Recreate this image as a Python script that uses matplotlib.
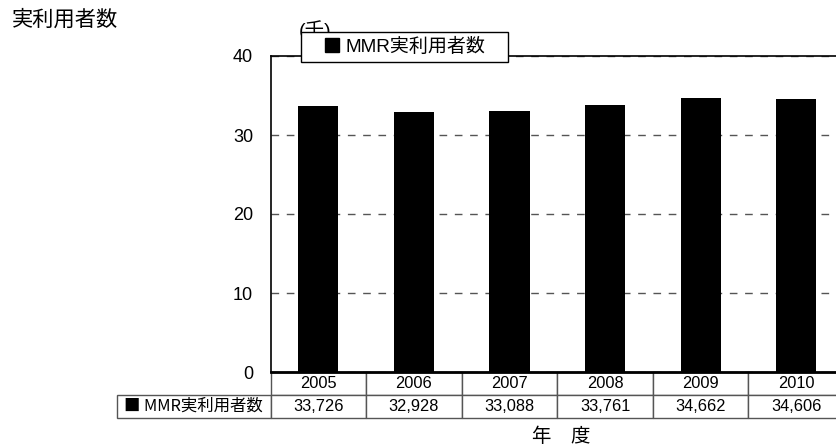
import matplotlib
matplotlib.use("Agg")
import matplotlib.pyplot as plt
from matplotlib.lines import Line2D
from matplotlib.table import Table

plt.rcParams['font.family'] = ['Liberation Sans', 'Noto Sans CJK JP', 'DejaVu Sans']
CJK = ['Noto Sans CJK JP', 'DejaVu Sans']

# Data
years = ["2005", "2006", "2007", "2008", "2009", "2010"]
users = [33726, 32928, 33088, 33761, 34662, 34606]   # persons
series_name = "MMR実利用者数"
title = "実利用者数"
unit = "(千)"
xlabel = "年\u3000度"

W, H = 837, 448
fig = plt.figure(figsize=(W / 100, H / 100), dpi=100)

# axes in pixel geometry
L, R, T, B = 270.5, 844.0, 56.0, 372.0
ax = fig.add_axes([L / W, 1 - B / H, (R - L) / W, (B - T) / H])

x = range(len(years))
vals_k = [u / 1000 for u in users]
ax.bar(x, vals_k, width=0.42, color="black", zorder=3)

ax.set_xlim(-0.5, len(years) - 0.5)
ax.set_ylim(0, 40)
ax.set_yticks([0, 10, 20, 30, 40])
ax.set_xticks([])
ax.tick_params(axis="y", length=0, pad=12.5, labelsize=13)
ax.yaxis.grid(True, linestyle=(0, (5.5, 5.5)), color="#555555", linewidth=1.0)
ax.set_axisbelow(True)

for s in ("left", "top"):
    ax.spines[s].set_linewidth(1.2)
    ax.spines[s].set_color("black")
ax.spines["bottom"].set_linewidth(2.0)
ax.spines["right"].set_visible(False)

# data table underneath (grid cells fill the bbox; label column hangs left)
row_h = (418 - 372) / (B - T)
lab_w = (L - 117) / (R - L)
col_w = 1 / len(years)
tbl = Table(ax, bbox=[0, -row_h, 1, row_h])
for j, yr in enumerate(years):
    tbl.add_cell(0, j, width=col_w, height=row_h / 2, text=yr, loc="center")
    tbl.add_cell(1, j, width=col_w, height=row_h / 2, text=f"{users[j]:,}", loc="center")
lab_cell = tbl.add_cell(1, -1, width=lab_w, height=row_h / 2,
                        text="■ " + series_name, loc="left")
lab_cell.PAD = 0.045
tbl.auto_set_font_size(False)
tbl.set_fontsize(11.8)
lab_cell.get_text().set_family(CJK)
for cell in tbl.get_celld().values():
    cell.set_edgecolor("#555555")
    cell.set_linewidth(1.0)
ax.add_table(tbl)

# unit label (partly covered by legend)
ax.text(315 / W, 1 - 30 / H, unit, transform=fig.transFigure, ha="center",
        va="center", fontsize=14, zorder=2, clip_on=False)

# legend
handle = Line2D([], [], marker="s", color="black", markersize=9.4, linestyle="none")
x0, x1, ytop = 300.7, 508.0, 32.0
leg = ax.legend([handle], [series_name], loc="upper left", mode="expand",
                bbox_to_anchor=(x0 / W, 0.5, (x1 - x0) / W, (1 - ytop / H) - 0.5),
                bbox_transform=fig.transFigure, borderaxespad=0, borderpad=0.3,
                handlelength=2.64, handletextpad=-0.61, fontsize=13.7,
                fancybox=False, framealpha=1, edgecolor="black")
leg.get_frame().set_linewidth(1.0)
leg.set_zorder(5)

fig.text(12 / W, 1 - 20 / H, title, ha="left", va="center", fontsize=15.3)
fig.text(561.5 / W, 1 - 437 / H, xlabel, ha="center", va="center", fontsize=14)

fig.savefig("out.png", dpi=100)
